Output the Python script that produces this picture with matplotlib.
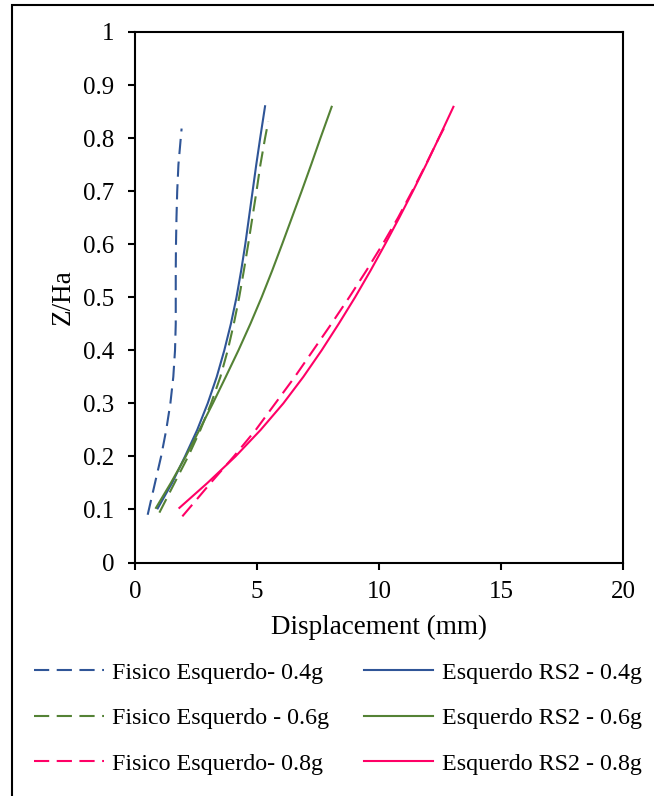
import matplotlib.pyplot as plt
from matplotlib.patches import Rectangle

# values (displacement in mm, Z/Ha)
fis_04_z = [0.09, 0.15, 0.20, 0.25, 0.30, 0.35, 0.40, 0.45, 0.50, 0.55, 0.60, 0.65, 0.70, 0.75, 0.818]
fis_04_x = [0.52, 0.82, 1.07, 1.28, 1.45, 1.57, 1.64, 1.67, 1.67, 1.67, 1.68, 1.70, 1.73, 1.78, 1.91]

rs2_04_z = [0.102, 0.15, 0.20, 0.25, 0.30, 0.35, 0.40, 0.45, 0.50, 0.55, 0.60, 0.65, 0.70, 0.75, 0.80, 0.86]
rs2_04_x = [0.93, 1.52, 2.05, 2.55, 2.98, 3.35, 3.66, 3.93, 4.16, 4.35, 4.52, 4.67, 4.82, 4.97, 5.13, 5.33]

fis_06_z = [0.094, 0.15, 0.20, 0.25, 0.30, 0.35, 0.40, 0.45, 0.50, 0.55, 0.60, 0.65, 0.70, 0.75, 0.80, 0.831]
fis_06_x = [1.00, 1.62, 2.18, 2.68, 3.12, 3.50, 3.80, 4.05, 4.27, 4.46, 4.64, 4.81, 4.98, 5.14, 5.33, 5.46]

rs2_06_z = [0.103, 0.15, 0.20, 0.25, 0.30, 0.35, 0.40, 0.45, 0.50, 0.55, 0.60, 0.65, 0.70, 0.75, 0.80, 0.859]
rs2_06_x = [0.86, 1.47, 2.08, 2.64, 3.19, 3.72, 4.24, 4.73, 5.19, 5.62, 6.03, 6.43, 6.83, 7.22, 7.60, 8.06]

fis_08_z = [0.087, 0.12, 0.15, 0.20, 0.25, 0.30, 0.35, 0.40, 0.45, 0.50, 0.55, 0.60, 0.65, 0.70, 0.75, 0.80, 0.828]
fis_08_x = [1.94, 2.55, 3.10, 4.05, 4.95, 5.75, 6.55, 7.30, 8.05, 8.78, 9.48, 10.15, 10.78, 11.36, 11.92, 12.45, 12.77]

rs2_08_z = [0.103, 0.15, 0.20, 0.25, 0.30, 0.35, 0.40, 0.45, 0.50, 0.55, 0.60, 0.65, 0.70, 0.75, 0.80, 0.859]
rs2_08_x = [1.82, 2.97, 4.12, 5.15, 6.08, 6.90, 7.65, 8.35, 9.02, 9.65, 10.25, 10.83, 11.39, 11.93, 12.45, 13.05]

blue = "#2F5597"
green = "#548235"
pink = "#FF0066"

plt.rcParams["font.family"] = ["Liberation Serif", "DejaVu Serif"]

fig = plt.figure(figsize=(6.54, 7.96), dpi=100)
ax = fig.add_axes([135 / 654, 1 - 562.5 / 796, 488 / 654, 530.5 / 796])

lw = 1.5
dash = (7.3, 3.6)
ax.plot(fis_04_x, fis_04_z, color=blue, lw=lw, dashes=dash, label="Fisico Esquerdo- 0.4g")
ax.plot(fis_06_x, fis_06_z, color=green, lw=lw, dashes=dash, label="Fisico Esquerdo - 0.6g")
ax.plot(fis_08_x, fis_08_z, color=pink, lw=lw, dashes=dash, label="Fisico Esquerdo- 0.8g")
ax.plot(rs2_04_x, rs2_04_z, color=blue, lw=lw, label="Esquerdo RS2 - 0.4g")
ax.plot(rs2_06_x, rs2_06_z, color=green, lw=lw, label="Esquerdo RS2 - 0.6g")
ax.plot(rs2_08_x, rs2_08_z, color=pink, lw=lw, label="Esquerdo RS2 - 0.8g")

ax.set_xlim(0, 20)
ax.set_ylim(0, 1)
ax.set_xticks([0, 5, 10, 15, 20])
ax.set_yticks([0, 0.1, 0.2, 0.3, 0.4, 0.5, 0.6, 0.7, 0.8, 0.9, 1])
ax.set_yticklabels(["0", "0.1", "0.2", "0.3", "0.4", "0.5", "0.6", "0.7", "0.8", "0.9", "1"])
ax.tick_params(direction="out", length=5, width=1.5, labelsize=18)
ax.tick_params(axis="y", pad=10)
ax.tick_params(axis="x", pad=8)
for s in ax.spines.values():
    s.set_linewidth(1.5)

ax.set_xlabel("Displacement (mm)", fontsize=19.5, labelpad=9)
ax.set_ylabel("Z/Ha", fontsize=19.5, labelpad=5)

fig.legend(*ax.get_legend_handles_labels(), loc="upper left",
           bbox_to_anchor=(34 / 654, 1 - 662 / 796), ncol=2, frameon=False,
           fontsize=17.3, handlelength=2.9, handletextpad=0.34,
           columnspacing=1.45, labelspacing=0.98, borderpad=0, borderaxespad=0)

# outer frame of the chart area (right and bottom edges are cut off)
fig.patches.append(Rectangle((12 / 654, -0.1), 1.2, 1.1 - 5 / 796,
                             transform=fig.transFigure, fill=False,
                             edgecolor="black", lw=1.5))

fig.savefig("out.png", dpi=100)
